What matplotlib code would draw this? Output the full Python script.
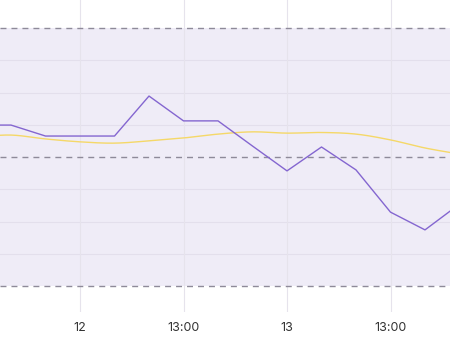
import numpy as np
import matplotlib
matplotlib.use("Agg")
import matplotlib.pyplot as plt

plt.rcParams["font.family"] = ["Inter", "DejaVu Sans"]

# hours since day 12 00:00, one sample every 4 hours
hours = [-12, -8, -4, 0, 4, 8, 12, 16, 20, 24, 28, 32, 36, 40, 44]
purple = [4.99, 4.99, 4.65, 4.65, 4.65, 5.89, 5.12, 5.12, 4.34, 3.57, 4.31, 3.60, 2.29, 1.74, 2.54]
yellow = [4.62, 4.68, 4.56, 4.47, 4.43, 4.50, 4.59, 4.71, 4.78, 4.74, 4.76, 4.71, 4.53, 4.28, 4.09]
tick_hours = [0, 12, 24, 36]
tick_labels = ["12", "13:00", "13", "13:00"]
band_low, band_high = 0, 8
grid_levels = [1, 2, 3, 5, 6, 7]
dash_levels = [0, 4, 8]


def smooth(x, y, n=20):
    # catmull-rom through the read points, only for drawing
    x = np.asarray(x, float)
    y = np.asarray(y, float)
    px = np.concatenate([[2 * x[0] - x[1]], x, [2 * x[-1] - x[-2]]])
    py = np.concatenate([[2 * y[0] - y[1]], y, [2 * y[-1] - y[-2]]])
    xs, ys = [], []
    t = np.linspace(0, 1, n, endpoint=False)
    for i in range(1, len(px) - 2):
        for arr, out in ((px, xs), (py, ys)):
            p0, p1, p2, p3 = arr[i - 1], arr[i], arr[i + 1], arr[i + 2]
            out.extend(0.5 * (2 * p1 + (-p0 + p2) * t + (2 * p0 - 5 * p1 + 4 * p2 - p3) * t ** 2
                              + (-p0 + 3 * p1 - 3 * p2 + p3) * t ** 3))
    xs.append(x[-1])
    ys.append(y[-1])
    return np.array(xs), np.array(ys)


fig = plt.figure(figsize=(4.5, 3.38), dpi=100)
ax = fig.add_axes([0, 26 / 338, 1, 312 / 338])

ax.axhspan(band_low, band_high, color="#efecf7", lw=0, zorder=0)
for lv in grid_levels:
    ax.axhline(lv, color="#e3dfec", lw=0.8, zorder=1)
for h in tick_hours:
    ax.axvline(h, color="#e6e3ec", lw=0.8, zorder=1)
for lv in dash_levels:
    ax.axhline(lv, color="#8e8a99", lw=1.0, dashes=(4.3, 3.6), zorder=2)

sx, sy = smooth(hours, yellow)
ax.plot(sx, sy, color="#f5d868", lw=1.0, zorder=3)
ax.plot(hours, purple, color="#8466d0", lw=1.0, zorder=4)

px_per_hour = 103.5 / 12
ax.set_xlim(-80 / px_per_hour, 370 / px_per_hour)
ax.set_ylim(-26 / 32.25, 286 / 32.25)

ax.set_xticks(tick_hours)
ax.set_xticklabels(tick_labels, fontsize=9, color="#333333")
ax.tick_params(axis="x", length=0, pad=7.5)
ax.set_yticks([])
for s in ax.spines.values():
    s.set_visible(False)
ax.set_facecolor("white")

fig.savefig("out.png", dpi=100)
